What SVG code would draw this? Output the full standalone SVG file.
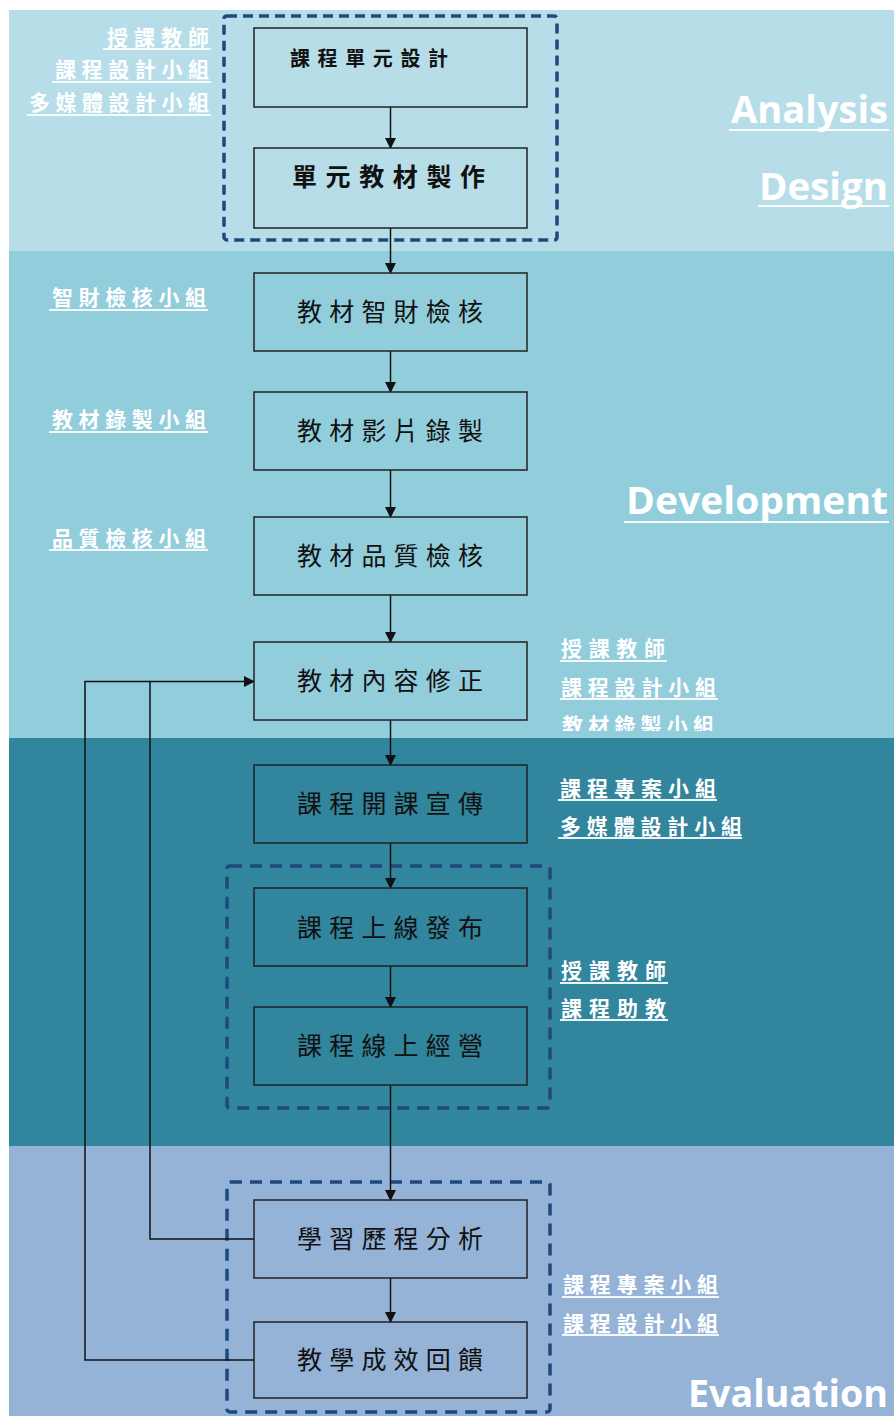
<svg xmlns="http://www.w3.org/2000/svg" width="894" height="1416" viewBox="0 0 894 1416">
<style>
.box{fill:none;stroke:#222;stroke-width:1.5}
.btxt{font-family:"Noto Sans CJK TC","Noto Sans CJK SC",sans-serif;font-size:25px;fill:#111;text-anchor:middle}
.lbl{font-family:"Noto Sans CJK TC","Noto Sans CJK SC",sans-serif;font-size:21px;font-weight:bold;fill:#fff}
.ul{stroke:#fff;stroke-width:2;opacity:0.9}
.eng{font-family:"Open Sans","Noto Sans",sans-serif;font-size:38px;font-weight:bold;fill:#fff;text-anchor:end}
.dash{fill:none;stroke:#1F497D;stroke-width:3.5}
.conn{fill:none;stroke:#111;stroke-width:1.5}
</style>
<defs>
<marker id="ah" markerUnits="userSpaceOnUse" markerWidth="11" markerHeight="11" refX="10" refY="5.5" orient="auto">
<path d="M0,0 L11,5.5 L0,11 z" fill="#111"/>
</marker>
<clipPath id="cut"><rect x="540" y="700" width="300" height="31"/></clipPath>
</defs>
<rect x="0" y="0" width="894" height="1416" fill="#fff"/>
<g id="bands">
<rect x="9" y="10" width="885" height="241" fill="#B7DEE8"/>
<rect x="9" y="251" width="885" height="487" fill="#92CDDC"/>
<rect x="9" y="738" width="885" height="408" fill="#31859C"/>
<rect x="9" y="1146" width="885" height="270" fill="#95B3D7"/>
</g>
<g id="groups">
<rect class="dash" x="224" y="16" width="333" height="224" rx="3" stroke-dasharray="10 6"/>
<rect class="dash" x="227" y="866" width="323" height="242" rx="3" stroke-dasharray="12 8"/>
<rect class="dash" x="227" y="1182" width="323" height="230" rx="3" stroke-dasharray="12 8"/>
</g>
<g id="phase-labels">
<text class="eng" x="888" y="123" textLength="157" lengthAdjust="spacingAndGlyphs">Analysis</text>
<line class="ul" x1="729" y1="130" x2="889" y2="130" stroke-width="2.5"/>
<text class="eng" x="888" y="200" textLength="129" lengthAdjust="spacingAndGlyphs">Design</text>
<line class="ul" x1="758" y1="206" x2="889" y2="206" stroke-width="2.5"/>
<text class="eng" x="888" y="514" textLength="262" lengthAdjust="spacingAndGlyphs">Development</text>
<line class="ul" x1="624" y1="522" x2="889" y2="522" stroke-width="2.5"/>
<text class="eng" x="888" y="1407" textLength="200" lengthAdjust="spacingAndGlyphs">Evaluation</text>
</g>
<g id="role-labels">
<text class="lbl" x="209" y="45" text-anchor="end" textLength="102" lengthAdjust="spacing">授課教師</text>
<line class="ul" x1="103" y1="49" x2="211" y2="49"/>
<text class="lbl" x="209" y="77" text-anchor="end" textLength="154" lengthAdjust="spacing">課程設計小組</text>
<line class="ul" x1="52" y1="82" x2="211" y2="82"/>
<text class="lbl" x="209" y="110" text-anchor="end" textLength="180" lengthAdjust="spacing">多媒體設計小組</text>
<line class="ul" x1="27" y1="115" x2="211" y2="115"/>
<text class="lbl" x="206" y="305" text-anchor="end" textLength="154" lengthAdjust="spacing">智財檢核小組</text>
<line class="ul" x1="49" y1="310" x2="208" y2="310"/>
<text class="lbl" x="206" y="427" text-anchor="end" textLength="154" lengthAdjust="spacing">教材錄製小組</text>
<line class="ul" x1="49" y1="432" x2="208" y2="432"/>
<text class="lbl" x="206" y="546" text-anchor="end" textLength="154" lengthAdjust="spacing">品質檢核小組</text>
<line class="ul" x1="49" y1="550" x2="208" y2="550"/>
<text class="lbl" x="561" y="656" textLength="104" lengthAdjust="spacing">授課教師</text>
<line class="ul" x1="560" y1="661" x2="667" y2="661"/>
<text class="lbl" x="561" y="695" textLength="155" lengthAdjust="spacing">課程設計小組</text>
<line class="ul" x1="560" y1="699" x2="718" y2="699"/>
<text class="lbl" x="562" y="733" textLength="152" lengthAdjust="spacing" clip-path="url(#cut)">教材錄製小組</text>
<text class="lbl" x="560" y="796" textLength="156" lengthAdjust="spacing">課程專案小組</text>
<line class="ul" x1="558" y1="800" x2="717" y2="800"/>
<text class="lbl" x="560" y="834" textLength="182" lengthAdjust="spacing">多媒體設計小組</text>
<line class="ul" x1="558" y1="838" x2="742" y2="838"/>
<text class="lbl" x="561" y="978" textLength="105" lengthAdjust="spacing">授課教師</text>
<line class="ul" x1="560" y1="983" x2="668" y2="983"/>
<text class="lbl" x="561" y="1016" textLength="105" lengthAdjust="spacing">課程助教</text>
<line class="ul" x1="560" y1="1020" x2="668" y2="1020"/>
<text class="lbl" x="563" y="1292" textLength="155" lengthAdjust="spacing">課程專案小組</text>
<line class="ul" x1="562" y1="1297" x2="719" y2="1297"/>
<text class="lbl" x="563" y="1331" textLength="155" lengthAdjust="spacing">課程設計小組</text>
<line class="ul" x1="562" y1="1335" x2="719" y2="1335"/>
</g>
<g id="connectors">
<line class="conn" x1="390.5" y1="107" x2="390.5" y2="148" marker-end="url(#ah)"/>
<line class="conn" x1="390.5" y1="228" x2="390.5" y2="273" marker-end="url(#ah)"/>
<line class="conn" x1="390.5" y1="351" x2="390.5" y2="392" marker-end="url(#ah)"/>
<line class="conn" x1="390.5" y1="470" x2="390.5" y2="517" marker-end="url(#ah)"/>
<line class="conn" x1="390.5" y1="595" x2="390.5" y2="642" marker-end="url(#ah)"/>
<line class="conn" x1="390.5" y1="720" x2="390.5" y2="765" marker-end="url(#ah)"/>
<line class="conn" x1="390.5" y1="843" x2="390.5" y2="888" marker-end="url(#ah)"/>
<line class="conn" x1="390.5" y1="966" x2="390.5" y2="1007" marker-end="url(#ah)"/>
<line class="conn" x1="390.5" y1="1085" x2="390.5" y2="1200" marker-end="url(#ah)"/>
<line class="conn" x1="390.5" y1="1278" x2="390.5" y2="1322" marker-end="url(#ah)"/>
<path class="conn" d="M254,1360 H85 V681.5 H150"/>
<path class="conn" d="M254,1239 H150 V681.5 H254" stroke-width="2.5" marker-end="url(#ah)"/>
</g>
<g id="n1"><rect class="box" x="254" y="28" width="273" height="79"/><text x="290" y="66" font-family="Noto Sans CJK TC, sans-serif" font-size="20" font-weight="bold" fill="#111" textLength="158" lengthAdjust="spacing">課程單元設計</text></g>
<g id="n2"><rect class="box" x="254" y="148" width="273" height="80"/><text x="292" y="186" font-family="Noto Sans CJK TC, sans-serif" font-size="25" font-weight="bold" fill="#111" textLength="193" lengthAdjust="spacing">單元教材製作</text></g>
<g id="n3"><rect class="box" x="254" y="273" width="273" height="78"/><text class="btxt" x="390" y="321" textLength="186" lengthAdjust="spacing">教材智財檢核</text></g>
<g id="n4"><rect class="box" x="254" y="392" width="273" height="78"/><text class="btxt" x="390" y="440" textLength="186" lengthAdjust="spacing">教材影片錄製</text></g>
<g id="n5"><rect class="box" x="254" y="517" width="273" height="78"/><text class="btxt" x="390" y="565" textLength="186" lengthAdjust="spacing">教材品質檢核</text></g>
<g id="n6"><rect class="box" x="254" y="642" width="273" height="78"/><text class="btxt" x="390" y="690" textLength="186" lengthAdjust="spacing">教材內容修正</text></g>
<g id="n7"><rect class="box" x="254" y="765" width="273" height="78"/><text class="btxt" x="390" y="813" textLength="186" lengthAdjust="spacing">課程開課宣傳</text></g>
<g id="n8"><rect class="box" x="254" y="888" width="273" height="78"/><text class="btxt" x="390" y="937" textLength="186" lengthAdjust="spacing">課程上線發布</text></g>
<g id="n9"><rect class="box" x="254" y="1007" width="273" height="78"/><text class="btxt" x="390" y="1055" textLength="186" lengthAdjust="spacing">課程線上經營</text></g>
<g id="n10"><rect class="box" x="254" y="1200" width="273" height="78"/><text class="btxt" x="390" y="1248" textLength="186" lengthAdjust="spacing">學習歷程分析</text></g>
<g id="n11"><rect class="box" x="254" y="1322" width="273" height="76"/><text class="btxt" x="390" y="1369" textLength="186" lengthAdjust="spacing">教學成效回饋</text></g>
</svg>
